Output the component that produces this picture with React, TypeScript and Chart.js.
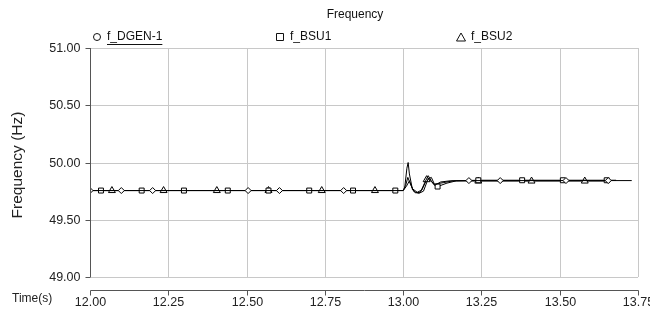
import React, { useEffect, useRef } from "react";
import { Chart, registerables } from "chart.js";

Chart.register(...registerables);

const chartTitle = "Frequency";
const yTitle = "Frequency (Hz)";
const xTitle = "Time(s)";
const seriesNames = ["f_DGEN-1", "f_BSU1", "f_BSU2"];
const xTicks = [12.0, 12.25, 12.5, 12.75, 13.0, 13.25, 13.5, 13.75];
const yTicks = [49.0, 49.5, 50.0, 50.5, 51.0];

const dgenT = [12.0, 12.1, 12.2, 12.505, 12.605, 12.81, 13.0, 13.005, 13.012, 13.016, 13.02, 13.03, 13.04, 13.055, 13.07, 13.08, 13.09, 13.1, 13.12, 13.15, 13.21, 13.31, 13.52, 13.655, 13.73];
const dgenV = [49.755, 49.755, 49.755, 49.755, 49.755, 49.755, 49.755, 49.78, 49.95, 50.0, 49.9, 49.76, 49.735, 49.74, 49.83, 49.885, 49.84, 49.8, 49.83, 49.84, 49.842, 49.842, 49.842, 49.842, 49.842];
const dgenMarks = [12.0, 12.1, 12.2, 12.505, 12.605, 12.81, 13.21, 13.31, 13.52, 13.655];

const bsu1T = [12.0, 12.035, 12.165, 12.3, 12.44, 12.57, 12.7, 12.84, 12.975, 13.0, 13.008, 13.015, 13.025, 13.035, 13.05, 13.065, 13.08, 13.095, 13.11, 13.14, 13.17, 13.24, 13.38, 13.51, 13.65, 13.68];
const bsu1V = [49.755, 49.755, 49.755, 49.755, 49.755, 49.755, 49.755, 49.755, 49.755, 49.755, 49.8, 49.87, 49.8, 49.745, 49.73, 49.75, 49.86, 49.82, 49.79, 49.82, 49.84, 49.845, 49.845, 49.845, 49.845, 49.845];
const bsu1Marks = [12.035, 12.165, 12.3, 12.44, 12.57, 12.7, 12.84, 12.975, 13.11, 13.24, 13.38, 13.51, 13.65];

const bsu2T = [12.0, 12.07, 12.235, 12.405, 12.57, 12.74, 12.91, 13.0, 13.01, 13.02, 13.03, 13.045, 13.06, 13.075, 13.09, 13.1, 13.13, 13.16, 13.24, 13.41, 13.58, 13.66];
const bsu2V = [49.755, 49.755, 49.755, 49.755, 49.755, 49.755, 49.755, 49.755, 49.79, 49.84, 49.77, 49.74, 49.76, 49.85, 49.87, 49.81, 49.825, 49.84, 49.838, 49.838, 49.838, 49.838];
const bsu2Marks = [12.07, 12.235, 12.405, 12.57, 12.74, 12.91, 13.075, 13.24, 13.41, 13.58];

const FONT = "'Liberation Sans', Arial, sans-serif";

function mk(ts: number[], vs: number[]) {
  return ts.map((t, i) => ({ x: t, y: vs[i] }));
}

function radiusFor(marks: number[], r: number) {
  return (ctx: any) => {
    const p = ctx.raw;
    if (!p) return 0;
    return marks.some((m) => Math.abs(m - p.x) < 1e-6) ? r : 0;
  };
}

const framePlugin = {
  id: "frame",
  beforeDatasetsDraw(chart: any) {
    const { ctx, scales } = chart;
    const xs = scales.x;
    const ys = scales.y;
    const top = ys.getPixelForValue(51);
    const bot = ys.getPixelForValue(49);
    const left = xs.getPixelForValue(12);
    const right = xs.getPixelForValue(13.75);
    ctx.save();
    ctx.lineWidth = 1;
    ctx.strokeStyle = "#c8c8c8";
    xTicks.forEach((t) => {
      const x = Math.round(xs.getPixelForValue(t)) + 0.5;
      ctx.beginPath();
      ctx.moveTo(x, top);
      ctx.lineTo(x, bot);
      ctx.stroke();
    });
    yTicks.forEach((v) => {
      const y = Math.round(ys.getPixelForValue(v)) + 0.5;
      ctx.beginPath();
      ctx.moveTo(left, y);
      ctx.lineTo(right, y);
      ctx.stroke();
    });
    ctx.restore();
  },
  afterDatasetsDraw(chart: any) {
    const { ctx, scales } = chart;
    const xs = scales.x;
    const ys = scales.y;
    const top = ys.getPixelForValue(51);
    const bot = ys.getPixelForValue(49);
    const left = Math.round(xs.getPixelForValue(12)) + 0.5;
    const right = xs.getPixelForValue(13.75);
    ctx.save();
    // y axis
    ctx.strokeStyle = "#555555";
    ctx.lineWidth = 1;
    ctx.beginPath();
    ctx.moveTo(left, top);
    ctx.lineTo(left, bot);
    ctx.stroke();
    ctx.fillStyle = "#222222";
    ctx.font = `12.5px ${FONT}`;
    ctx.textAlign = "right";
    ctx.textBaseline = "middle";
    yTicks.forEach((v) => {
      const y = Math.round(ys.getPixelForValue(v)) + 0.5;
      ctx.beginPath();
      ctx.moveTo(left - 5, y);
      ctx.lineTo(left, y);
      ctx.stroke();
      ctx.fillText(v.toFixed(2), left - 10, y + 0.5);
    });
    // x axis
    const ax = 290.5;
    ctx.beginPath();
    ctx.moveTo(left, ax);
    ctx.lineTo(Math.round(right) + 0.5, ax);
    ctx.stroke();
    ctx.textAlign = "center";
    ctx.textBaseline = "middle";
    xTicks.forEach((t) => {
      const x = Math.round(xs.getPixelForValue(t)) + 0.5;
      ctx.beginPath();
      ctx.moveTo(x, ax);
      ctx.lineTo(x, ax + 5);
      ctx.stroke();
      ctx.fillText(t.toFixed(2), x, 303);
    });
    ctx.textAlign = "left";
    ctx.font = `12px ${FONT}`;
    ctx.fillText(xTitle, 12, 299);
    // y title
    ctx.save();
    ctx.translate(18, 165);
    ctx.rotate(-Math.PI / 2);
    ctx.textAlign = "center";
    ctx.textBaseline = "middle";
    ctx.font = `15.5px ${FONT}`;
    ctx.fillText(yTitle, 0, 0);
    ctx.restore();
    // title
    ctx.font = `12px ${FONT}`;
    ctx.textAlign = "center";
    ctx.textBaseline = "middle";
    ctx.fillStyle = "#111111";
    ctx.fillText(chartTitle, 355, 15);
    // legend
    const lx = [93, 276, 457];
    const ly = 37;
    ctx.textAlign = "left";
    ctx.strokeStyle = "#111111";
    ctx.lineWidth = 1;
    seriesNames.forEach((n, i) => {
      const sx = lx[i] + 4;
      ctx.beginPath();
      if (i === 0) {
        ctx.arc(sx, ly, 3.5, 0, Math.PI * 2);
      } else if (i === 1) {
        ctx.rect(sx - 3.5, ly - 3.5, 7, 7);
      } else {
        ctx.moveTo(sx, ly - 4);
        ctx.lineTo(sx + 4.5, ly + 4);
        ctx.lineTo(sx - 4.5, ly + 4);
        ctx.closePath();
      }
      ctx.stroke();
      ctx.fillText(n, sx + 10, ly);
      if (i === 0) {
        const w = ctx.measureText(n).width;
        ctx.beginPath();
        ctx.moveTo(sx + 10, ly + 7.5);
        ctx.lineTo(sx + 10 + w, ly + 7.5);
        ctx.stroke();
      }
    });
    ctx.restore();
  },
};

export default function App() {
  const ref = useRef<HTMLCanvasElement>(null);
  useEffect(() => {
    document.body.style.margin = "0";
    const c = ref.current!;
    const common = {
      borderColor: "#000000",
      borderWidth: 1,
      pointBackgroundColor: "#ffffff",
      pointBorderColor: "#000000",
      pointBorderWidth: 1,
      pointHoverRadius: 0,
      fill: false,
      tension: 0,
    };
    const chart = new Chart(c, {
      type: "line",
      data: {
        datasets: [
          { ...common, label: seriesNames[0], data: mk(dgenT, dgenV), pointStyle: "rectRot", pointRadius: radiusFor(dgenMarks, 3) },
          { ...common, label: seriesNames[1], data: mk(bsu1T, bsu1V), pointStyle: "rect", pointRadius: radiusFor(bsu1Marks, 3.5) },
          { ...common, label: seriesNames[2], data: mk(bsu2T, bsu2V), pointStyle: "triangle", pointRadius: radiusFor(bsu2Marks, 4) },
        ],
      },
      options: {
        responsive: false,
        animation: false,
        layout: { padding: { left: 90, right: 12, top: 48, bottom: 34 } },
        plugins: { legend: { display: false }, title: { display: false }, tooltip: { enabled: false } },
        scales: {
          x: { type: "linear", min: 12, max: 13.75, display: false },
          y: { type: "linear", min: 49, max: 51, display: false },
        },
      },
      plugins: [framePlugin],
    });
    return () => chart.destroy();
  }, []);
  return (
    <div style={{ width: 650, height: 311, background: "#ffffff" }}>
      <canvas ref={ref} width={650} height={311} />
    </div>
  );
}
